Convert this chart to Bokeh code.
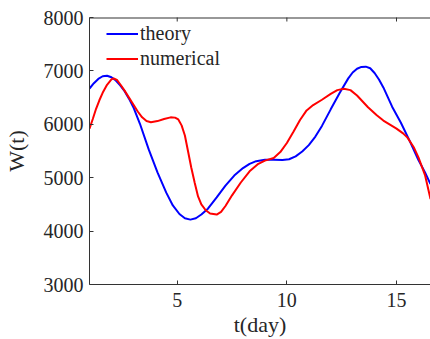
import numpy as np
from bokeh.plotting import figure
from bokeh.models import (LinearAxis, FixedTicker, Legend, LegendItem, Range1d, Span)
from bokeh.embed import file_html
from bokeh.resources import INLINE

# --- data ---
t_theory = [1.0, 1.2, 1.4, 1.6, 1.8, 2.0, 2.2, 2.4, 2.6, 2.8, 3.0, 3.3, 3.7, 4.1,
            4.5, 4.8, 5.1, 5.35, 5.6, 5.85, 6.1, 6.4, 6.8, 7.2, 7.6, 8.0, 8.3,
            8.6, 9.0, 9.4, 9.8, 10.1, 10.4, 10.7, 11.0, 11.3, 11.6, 12.0, 12.4,
            12.8, 13.0, 13.2, 13.4, 13.6, 13.8, 14.0, 14.2, 14.4, 14.8, 15.2,
            15.6, 16.0, 16.3, 16.55]
w_theory = [6670, 6770, 6850, 6900, 6910, 6880, 6820, 6730, 6620, 6480, 6320,
            6010, 5530, 5100, 4720, 4480, 4320, 4240, 4215, 4240, 4310, 4420,
            4630, 4850, 5040, 5180, 5260, 5310, 5335, 5335, 5330, 5345, 5400,
            5490, 5610, 5770, 5970, 6280, 6580, 6860, 6970, 7040, 7075, 7080,
            7050, 6960, 6840, 6690, 6330, 6030, 5690, 5330, 5100, 4880]

t_num = [1.0, 1.15, 1.3, 1.45, 1.6, 1.8, 2.0, 2.1, 2.25, 2.4, 2.6, 2.8, 3.0, 3.2,
         3.4, 3.6, 3.8, 4.1, 4.4, 4.7, 4.9, 5.05, 5.2, 5.35, 5.5, 5.64, 5.8,
         5.95, 6.1, 6.3, 6.5, 6.8, 7.0, 7.2, 7.5, 7.9, 8.3, 8.7, 9.0, 9.4, 9.7,
         10.0, 10.3, 10.6, 10.9, 11.2, 11.6, 12.0, 12.3, 12.6, 12.9, 13.2, 13.7,
         14.1, 14.4, 15.0, 15.3, 15.5, 15.8, 16.0, 16.3, 16.55]
w_num = [5920, 6100, 6290, 6450, 6590, 6740, 6840, 6860, 6830, 6750, 6630, 6500,
         6370, 6240, 6130, 6060, 6040, 6060, 6100, 6130, 6125, 6090, 5980, 5790,
         5480, 5190, 4900, 4650, 4500, 4390, 4330, 4310, 4360, 4470, 4670, 4910,
         5120, 5260, 5320, 5370, 5480, 5650, 5860, 6080, 6260, 6360, 6460, 6570,
         6640, 6665, 6640, 6540, 6320, 6170, 6070, 5920, 5830, 5750, 5560, 5380,
         5050, 4600]

x_ticks = [5, 10, 15]
y_ticks = [3000, 4000, 5000, 6000, 7000, 8000]
x_lo, x_hi = 1.0, 16.55
y_lo, y_hi = 3000, 8000

FONT = "Liberation Serif"
AX = "#333333"
TXT = "#262626"

p = figure(width=430, height=339, output_backend="svg", toolbar_location=None,
           x_range=Range1d(x_lo, x_hi), y_range=Range1d(y_lo, y_hi),
           x_axis_location=None, y_axis_location=None,
           min_border_left=88, min_border_right=0, min_border_top=17,
           min_border_bottom=55, background_fill_color="white",
           border_fill_color="white")
p.outline_line_color = None
p.xgrid.visible = False
p.ygrid.visible = False

def style_axis(ax, ticks):
    ax.ticker = FixedTicker(ticks=ticks)
    ax.axis_line_color = AX
    ax.axis_line_width = 1
    ax.major_tick_line_color = AX
    ax.major_tick_in = 4
    ax.major_tick_out = 0
    ax.minor_tick_line_color = None
    ax.major_label_text_font = FONT
    ax.major_label_text_font_size = "20px"
    ax.major_label_text_color = TXT
    ax.axis_label_text_font = FONT
    ax.axis_label_text_font_size = "22px"
    ax.axis_label_text_color = TXT
    ax.axis_label_text_font_style = "normal"

xb = LinearAxis()
style_axis(xb, x_ticks)
xb.major_label_standoff = 8
xb.axis_label = "t(day)"
xb.axis_label_standoff = 2
p.add_layout(xb, "below")

yl = LinearAxis()
style_axis(yl, y_ticks)
yl.major_label_standoff = 6
yl.axis_label = "W(t)"
yl.axis_label_standoff = 12
p.add_layout(yl, "left")

# top box line with inward ticks (no right line in the reference crop)
p.add_layout(Span(location=y_hi, dimension="width", line_color=AX, line_width=2))
p.scatter(x_ticks, [y_hi] * len(x_ticks), marker="dash", angle=np.pi / 2,
          size=8, line_color=AX, line_width=1)

r1 = p.line(t_theory, w_theory, line_color="#0000ff", line_width=2)
r2 = p.line(t_num, w_num, line_color="#ff0000", line_width=2)

legend = Legend(items=[LegendItem(label="theory", renderers=[r1]),
                       LegendItem(label="numerical", renderers=[r2])],
                location=(17, 213), orientation="vertical")
legend.glyph_width = 32
legend.glyph_height = 25
legend.label_height = 25
legend.label_standoff = 2
legend.spacing = 0
legend.padding = 0
legend.margin = 0
legend.border_line_color = None
legend.background_fill_alpha = 0
legend.label_text_font = FONT
legend.label_text_font_size = "20px"
legend.label_text_color = TXT
p.add_layout(legend, "center")

open("out.html", "w").write(file_html(p, INLINE))
